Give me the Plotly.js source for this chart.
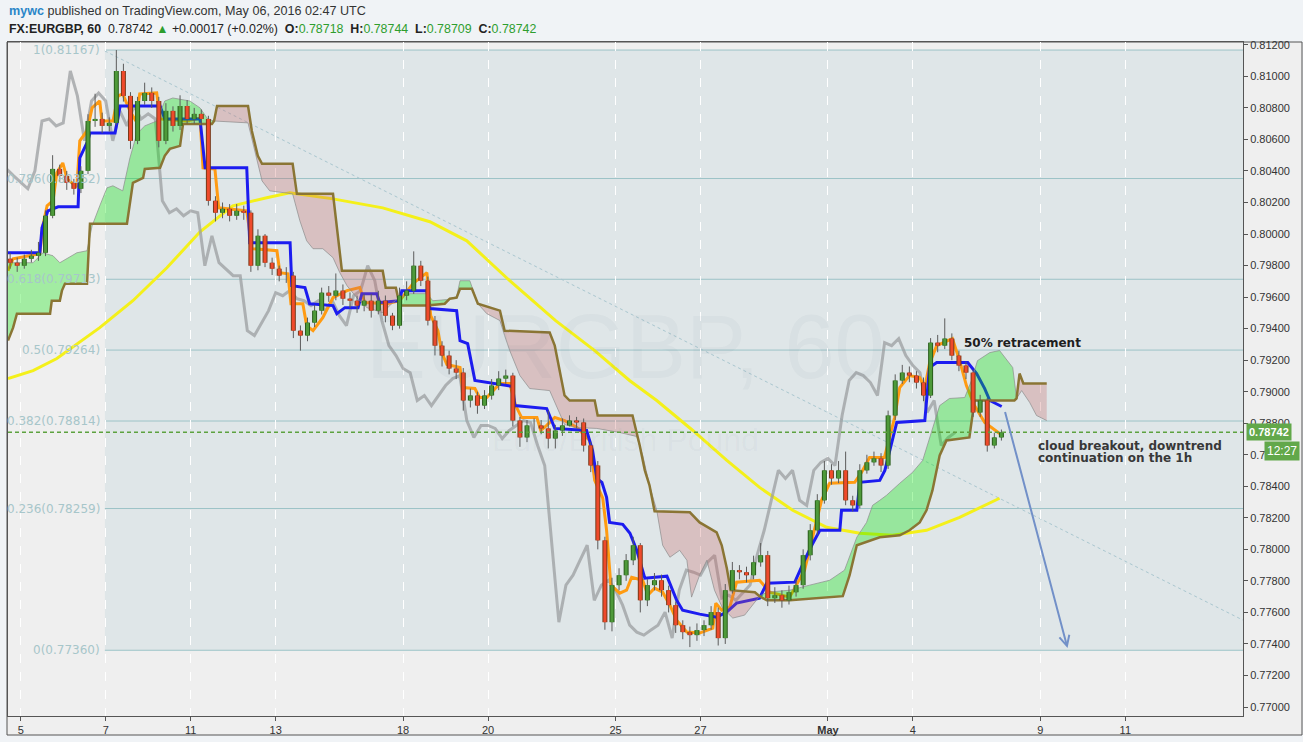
<!DOCTYPE html>
<html>
<head>
<meta charset="utf-8">
<script src="https://cdn.plot.ly/plotly-3.0.1.min.js"></script>
<style>
html,body{margin:0;padding:0;background:#f0f3f6;}
#chart{width:1303px;height:742px;}
</style>
</head>
<body>
<div id="chart"></div>
<script>
// ---------------- DATA ----------------
// x values are trading-day index (Apr 4 2016 = 0, weekends removed)
const tickDays   = [1, 3, 5, 7, 10, 12, 15, 17, 20, 22, 25, 27];
const tickLabels = ['5', '7', '11', '13', '18', '20', '25', '27', '<b>May</b>', '4', '9', '11'];

// 4-hour candles (open = previous close)
const firstCandleDay = 0.75;
const candlesPerDay = 6;
const firstOpen = 0.79843;
const closes = [
 0.79818,0.79799,0.79843,0.79862,0.79881,0.80116,0.80413,0.80369,0.80325,0.80287,
 0.80401,0.80717,0.80730,0.80686,0.80705,0.81034,0.80876,0.80591,0.80844,0.80895,
 0.80844,0.80591,0.80781,0.80686,0.80812,0.80730,0.80762,0.80730,0.80211,0.80135,
 0.80160,0.80116,0.80147,0.80135,0.79799,0.79989,0.79818,0.79780,0.79736,0.79736,
 0.79387,0.79356,0.79438,0.79514,0.79628,0.79609,0.79641,0.79590,0.79577,0.79546,
 0.79577,0.79514,0.79577,0.79482,0.79419,0.79609,0.79641,0.79799,0.79704,0.79451,
 0.79292,0.79229,0.79147,0.79121,0.78944,0.78976,0.78912,0.78976,0.79039,0.79083,
 0.79102,0.78817,0.78710,0.78786,0.78786,0.78767,0.78703,0.78754,0.78786,0.78817,
 0.78805,0.78659,0.78532,0.78057,0.77538,0.77773,0.77836,0.77931,0.78026,0.77677,
 0.77773,0.77804,0.77741,0.77646,0.77519,0.77475,0.77456,0.77488,0.77519,0.77602,
 0.77437,0.77741,0.77868,0.77855,0.77836,0.77918,0.77963,0.77690,0.77709,0.77677,
 0.77728,0.77773,0.77963,0.78121,0.78311,0.78501,0.78450,0.78501,0.78311,0.78279,
 0.78501,0.78552,0.78577,0.78532,0.78849,0.79071,0.79121,0.79102,0.79058,0.78976,
 0.79311,0.79292,0.79337,0.79229,0.79166,0.79121,0.78868,0.78944,0.78659,0.78710,
 0.78742];
const highs = [
 0.79880,0.79850,0.79870,0.79900,0.79950,0.80150,0.80500,0.80440,0.80400,0.80350,
 0.80430,0.80760,0.80890,0.80770,0.80740,0.81167,0.81080,0.80900,0.80870,0.80960,
 0.80930,0.80870,0.80830,0.80810,0.80880,0.80850,0.80800,0.80790,0.80750,0.80240,
 0.80200,0.80190,0.80190,0.80180,0.80150,0.80030,0.80000,0.79850,0.79800,0.79790,
 0.79760,0.79420,0.79470,0.79550,0.79660,0.79670,0.79750,0.79680,0.79630,0.79610,
 0.79620,0.79620,0.79640,0.79610,0.79500,0.79660,0.79700,0.79890,0.79830,0.79730,
 0.79480,0.79320,0.79260,0.79200,0.79150,0.79020,0.79000,0.79010,0.79080,0.79130,
 0.79140,0.79120,0.78840,0.78820,0.78830,0.78820,0.78880,0.78790,0.78830,0.78850,
 0.78840,0.78830,0.78680,0.78560,0.78080,0.77820,0.77880,0.77970,0.78080,0.78040,
 0.77810,0.77850,0.77840,0.77770,0.77670,0.77550,0.77510,0.77530,0.77550,0.77640,
 0.77630,0.77780,0.77920,0.77900,0.77890,0.77960,0.78040,0.77990,0.77760,0.77740,
 0.77770,0.77810,0.78000,0.78160,0.78350,0.78560,0.78540,0.78560,0.78620,0.78340,
 0.78540,0.78600,0.78620,0.78610,0.78880,0.79110,0.79170,0.79160,0.79130,0.79090,
 0.79340,0.79360,0.79465,0.79370,0.79260,0.79190,0.79140,0.78980,0.78960,0.78740,
 0.78760];
const lows = [
 0.79780,0.79760,0.79780,0.79820,0.79830,0.79860,0.80100,0.80330,0.80280,0.80250,
 0.80260,0.80380,0.80680,0.80640,0.80650,0.80690,0.80840,0.80540,0.80570,0.80820,
 0.80800,0.80550,0.80570,0.80650,0.80660,0.80700,0.80700,0.80690,0.80180,0.80080,
 0.80100,0.80080,0.80090,0.80090,0.79760,0.79770,0.79790,0.79740,0.79700,0.79690,
 0.79340,0.79260,0.79320,0.79410,0.79490,0.79570,0.79580,0.79550,0.79530,0.79500,
 0.79510,0.79470,0.79490,0.79440,0.79390,0.79400,0.79580,0.79620,0.79670,0.79420,
 0.79230,0.79160,0.79110,0.79080,0.78880,0.78900,0.78860,0.78890,0.78950,0.79010,
 0.79050,0.78780,0.78650,0.78680,0.78740,0.78730,0.78640,0.78640,0.78720,0.78780,
 0.78770,0.78620,0.78490,0.78000,0.77490,0.77480,0.77740,0.77800,0.77900,0.77600,
 0.77640,0.77740,0.77700,0.77600,0.77470,0.77430,0.77380,0.77420,0.77450,0.77490,
 0.77390,0.77400,0.77720,0.77810,0.77790,0.77810,0.77890,0.77640,0.77660,0.77630,
 0.77650,0.77700,0.77750,0.77930,0.78090,0.78290,0.78410,0.78420,0.78280,0.78240,
 0.78260,0.78480,0.78530,0.78490,0.78510,0.78820,0.79050,0.79060,0.79020,0.78940,
 0.78960,0.79250,0.79270,0.79200,0.79130,0.79080,0.78840,0.78840,0.78620,0.78640,
 0.78690];

// Ichimoku lagging span displacement (26 hourly bars)
const chikouShiftDays = 26 / 24;

// Kijun-sen (blue)
const kijunX = [0.70,1.45,1.50,1.64,1.88,2.35,2.39,2.51,2.58,2.63,
 3.22,3.34,4.28,4.39,5.22,5.34,6.32,6.39,7.34,7.38,
 7.69,7.80,8.35,8.44,8.63,8.94,9.03,9.38,9.45,9.92,
 9.97,10.56,10.63,11.26,11.34,11.52,11.69,12.58,12.63,13.38,
 13.57,14.32,14.46,14.56,14.68,14.79,14.86,15.17,15.34,15.50,
 15.69,16.21,16.44,16.58,16.98,17.38,17.62,17.85,18.39,18.56,
 19.22,19.45,19.62,19.81,20.28,20.32,20.68,20.75,21.22,21.34,
 21.45,21.62,22.28,22.39,22.56,23.29,23.50,23.69,23.81,24.09];
const kijunY = [0.79881,0.79881,0.80040,0.80147,0.80173,0.80173,0.80483,0.80546,0.80591,0.80641,
 0.80641,0.80812,0.80812,0.80730,0.80730,0.80420,0.80420,0.79945,0.79945,0.79672,
 0.79660,0.79558,0.79546,0.79495,0.79533,0.79533,0.79622,0.79622,0.79565,0.79577,
 0.79641,0.79641,0.79527,0.79514,0.79324,0.79305,0.79071,0.79033,0.78912,0.78893,
 0.78767,0.78754,0.78627,0.78450,0.78425,0.78330,0.78171,0.78159,0.78102,0.77994,
 0.77817,0.77830,0.77677,0.77614,0.77589,0.77570,0.77602,0.77659,0.77690,0.77785,
 0.77792,0.77931,0.78026,0.78121,0.78121,0.78248,0.78248,0.78425,0.78437,0.78501,
 0.78627,0.78805,0.78817,0.79153,0.79185,0.79185,0.79115,0.79020,0.78944,0.78906];

// Tenkan-sen (orange)
const tenkanX = [0.70,0.82,1.45,1.52,1.62,1.76,1.85,1.99,2.09,2.32,
 2.39,2.56,2.68,2.86,2.91,3.17,3.29,3.40,3.57,3.71,
 3.80,4.20,4.28,4.91,5.22,5.29,5.57,5.66,6.32,6.44,
 7.03,7.10,7.29,7.36,7.64,7.73,7.88,8.11,8.35,8.68,
 8.98,9.10,9.62,9.92,10.23,10.56,10.65,10.82,10.91,11.03,
 11.34,11.40,11.69,11.80,11.97,12.28,12.51,12.65,12.79,13.15,
 13.24,13.38,13.57,13.80,14.09,14.39,14.51,14.70,14.79,14.89,
 15.10,15.26,15.38,15.64,15.76,15.92,16.11,16.28,16.44,16.68,
 16.98,17.29,17.36,17.50,17.69,17.85,18.39,18.63,19.10,19.45,
 19.69,19.85,20.04,20.63,20.79,20.98,21.33,21.45,21.57,21.69,
 21.92,22.16,22.28,22.39,22.56,22.93,23.10,23.26,23.45,23.69,
 24.04];
const tenkanY = [0.79767,0.79843,0.79875,0.80052,0.80179,0.80211,0.80388,0.80451,0.80350,0.80299,
 0.80591,0.80654,0.80800,0.80844,0.80717,0.80717,0.80876,0.80888,0.80781,0.80717,
 0.80888,0.80895,0.80730,0.80717,0.80736,0.80420,0.80413,0.80166,0.80147,0.79907,
 0.79894,0.79755,0.79748,0.79558,0.79558,0.79419,0.79387,0.79470,0.79596,0.79641,
 0.79660,0.79565,0.79558,0.79577,0.79685,0.79755,0.79482,0.79387,0.79248,0.79172,
 0.79153,0.79026,0.79020,0.78963,0.78963,0.79052,0.79052,0.78912,0.78836,0.78836,
 0.78754,0.78786,0.78836,0.78817,0.78773,0.78691,0.78437,0.78324,0.78121,0.77773,
 0.77722,0.77741,0.77823,0.77804,0.77709,0.77754,0.77728,0.77646,0.77551,0.77475,
 0.77469,0.77500,0.77659,0.77614,0.77633,0.77792,0.77804,0.77728,0.77697,0.77868,
 0.78134,0.78311,0.78419,0.78425,0.78488,0.78583,0.78583,0.78703,0.78836,0.79026,
 0.79102,0.79090,0.79026,0.79178,0.79292,0.79337,0.79197,0.79039,0.78912,0.78805,
 0.78735];

// 200 SMA (yellow)
const smaX = [0.70,1.29,1.85,2.86,3.64,4.44,5.22,5.99,6.79,7.33,8.35,9.52,10.63,11.50,12.51,
 13.59,14.51,15.33,15.97,16.82,17.62,18.39,19.17,19.97,20.75,21.52,22.32,23.10,24.04];
const smaY = [0.79083,0.79134,0.79210,0.79406,0.79577,0.79786,0.80014,0.80179,0.80230,0.80261,
 0.80223,0.80166,0.80078,0.79957,0.79704,0.79451,0.79261,0.79071,0.78944,0.78754,
 0.78564,0.78393,0.78248,0.78140,0.78102,0.78089,0.78121,0.78203,0.78324];

// Senkou span A (thin) and B (thick)
const spanAX = [0.70,1.29,1.52,1.76,1.92,2.09,2.32,2.56,2.68,2.86,
 3.03,3.17,3.40,3.57,3.73,3.92,4.20,4.39,4.58,4.98,
 5.22,5.40,5.55,6.35,6.51,6.68,6.86,7.40,7.57,7.73,
 7.88,8.11,8.35,8.51,8.68,8.91,9.15,9.52,9.73,9.88,
 10.16,10.56,10.70,11.03,11.26,11.34,11.57,11.76,11.97,12.28,
 12.39,12.51,12.75,12.98,13.45,13.64,13.80,14.04,14.56,15.10,
 15.50,15.64,15.80,15.97,16.11,16.28,16.51,16.68,16.79,16.98,
 17.15,17.33,17.52,17.76,18.04,18.28,18.39,18.56,19.10,19.57,
 20.04,20.39,20.68,20.91,21.05,21.22,21.38,21.69,21.99,22.23,
 22.32,22.46,22.63,22.86,23.22,23.38,23.52,23.81,24.04,24.35,
 24.44,24.56,24.75,24.91,25.15];
const spanAY = [0.79818,0.79818,0.79881,0.79862,0.79818,0.79843,0.79881,0.79894,0.80052,0.80179,
 0.80293,0.80306,0.80274,0.80483,0.80635,0.80686,0.80717,0.80844,0.80863,0.80844,
 0.80800,0.80730,0.80717,0.80705,0.80527,0.80337,0.80274,0.80255,0.80084,0.79957,
 0.79907,0.79907,0.79850,0.79755,0.79672,0.79596,0.79533,0.79501,0.79558,0.79590,
 0.79622,0.79622,0.79577,0.79584,0.79603,0.79704,0.79704,0.79558,0.79495,0.79451,
 0.79356,0.79261,0.79102,0.79020,0.79007,0.78893,0.78792,0.78773,0.78767,0.78741,
 0.78716,0.78596,0.78406,0.78248,0.78026,0.77950,0.77994,0.77931,0.77697,0.77836,
 0.77931,0.77741,0.77627,0.77564,0.77583,0.77665,0.77703,0.77728,0.77741,0.77773,
 0.77804,0.77868,0.78077,0.78171,0.78279,0.78311,0.78343,0.78419,0.78488,0.78564,
 0.78640,0.78754,0.78912,0.78957,0.78963,0.79071,0.79197,0.79248,0.79261,0.79153,
 0.78957,0.79007,0.78931,0.78849,0.78817];
const spanBX = [0.70,0.82,0.91,1.69,1.73,1.92,1.97,2.04,2.56,2.63,
 3.50,3.64,3.88,3.92,4.28,4.39,4.51,4.75,4.82,5.50,
 5.55,5.62,6.35,6.44,6.58,6.68,7.40,7.50,8.35,8.56,
 9.52,9.59,9.83,9.88,9.92,10.56,10.98,11.10,11.26,11.34,
 11.62,11.76,12.28,12.39,13.45,13.57,13.69,13.80,13.92,14.51,
 14.58,15.40,15.57,15.69,15.80,15.92,16.75,16.98,17.38,17.50,
 17.62,17.71,18.28,18.39,18.56,19.10,20.35,20.51,20.68,20.98,
 21.22,21.69,21.92,22.16,22.32,22.46,22.63,22.79,23.33,23.45,
 24.39,24.44,24.51,24.60,25.15];
const spanBY = [0.79324,0.79406,0.79495,0.79495,0.79577,0.79577,0.79641,0.79685,0.79685,0.80065,
 0.80065,0.80325,0.80356,0.80413,0.80420,0.80496,0.80540,0.80559,0.80698,0.80698,
 0.80717,0.80812,0.80812,0.80654,0.80496,0.80445,0.80445,0.80255,0.80255,0.79767,
 0.79767,0.79660,0.79660,0.79590,0.79546,0.79546,0.79558,0.79590,0.79596,0.79653,
 0.79653,0.79558,0.79514,0.79387,0.79375,0.79292,0.79134,0.78976,0.78944,0.78944,
 0.78849,0.78849,0.78659,0.78501,0.78406,0.78241,0.78235,0.78171,0.78108,0.78026,
 0.77880,0.77741,0.77728,0.77703,0.77677,0.77677,0.77703,0.77836,0.78026,0.78057,
 0.78077,0.78089,0.78121,0.78171,0.78248,0.78374,0.78596,0.78691,0.78710,0.78944,
 0.78944,0.78957,0.79115,0.79052,0.79052];
// points where span A and span B cross (shared by both lists)
const cloudCrossings = [5.55, 9.88, 11.76, 18.39, 24.44];

// Fibonacci retracement
const fibStartDay = 2.98;
const fibLevels = ['1', '0.786', '0.618', '0.5', '0.382', '0.236', '0'];
const fibPrices = [0.81167, 0.80352, 0.79713, 0.79264, 0.78814, 0.78259, 0.77360];

// drawings
const trendLineX = [2.98, 29.77];
const trendLineY = [0.81161, 0.77551];
const lastPrice = 0.78742;
const arrowTail = [24.16, 0.78881];
const arrowHead = [25.64, 0.77374];
const note1 = {x: 23.15, y: 0.79311, text: '50% retracement'};
const note2 = {x: 24.89, y: [0.78653, 0.78577], text: ['cloud breakout, downtrend', 'continuation on the 1h']};

const header = {
  author: 'mywc', published: ' published on TradingView.com, May 06, 2016 02:47 UTC',
  symbol: 'FX:EURGBP, 60', last: '0.78742', change: '+0.00017 (+0.02%)',
  ohlc: [['O:', '0.78718'], ['H:', '0.78744'], ['L:', '0.78709'], ['C:', '0.78742']],
  countdown: '12:27'
};

// ---------------- LAYOUT HELPERS ----------------
const W = 1303, H = 742;
const M = {l: 8, r: 60, t: 42, b: 26};
const PW = W - M.l - M.r, PH = H - M.t - M.b;
const px2x = p => (p - M.l) / PW;
const py2y = p => 1 - (p - M.t) / PH;
const xRange = [0.70, 29.77];
const yRange = [0.76943, 0.81218];

// ---------------- TRACES ----------------
const traces = [];
const skip = {hoverinfo: 'skip', showlegend: false};

// SMA
traces.push(Object.assign({type: 'scatter', mode: 'lines', x: smaX, y: smaY,
  line: {color: '#f4f01a', width: 3}}, skip));
// Chikou (lagging span) = closes displaced back
const candleX = closes.map((_, i) => firstCandleDay + i / candlesPerDay);
traces.push(Object.assign({type: 'scatter', mode: 'lines',
  x: candleX.map(v => v - chikouShiftDays), y: closes,
  line: {color: 'rgba(155,158,160,0.75)', width: 3}}, skip));
// Tenkan
traces.push(Object.assign({type: 'scatter', mode: 'lines', x: tenkanX, y: tenkanY,
  line: {color: '#ff9b12', width: 3}}, skip));
// Kijun
traces.push(Object.assign({type: 'scatter', mode: 'lines', x: kijunX, y: kijunY,
  line: {color: '#1c1cf0', width: 3}}, skip));

// Cloud fill segments
const bounds = [spanAX[0]].concat(cloudCrossings, [spanAX[spanAX.length - 1]]);
const eps = 1e-6;
for (let k = 0; k < bounds.length - 1; k++) {
  const lo = bounds[k] - eps, hi = bounds[k + 1] + eps;
  const ax = [], ay = [], bx = [], by = [];
  spanAX.forEach((x, i) => { if (x >= lo && x <= hi) { ax.push(x); ay.push(spanAY[i]); } });
  spanBX.forEach((x, i) => { if (x >= lo && x <= hi) { bx.push(x); by.push(spanBY[i]); } });
  const mean = a => a.reduce((s, v) => s + v, 0) / a.length;
  const bullish = mean(ay) > mean(by);
  traces.push(Object.assign({type: 'scatter', mode: 'lines', x: bx, y: by,
    line: {width: 0, color: 'rgba(0,0,0,0)'}}, skip));
  traces.push(Object.assign({type: 'scatter', mode: 'lines', x: ax, y: ay,
    fill: 'tonexty', fillcolor: bullish ? 'rgba(0,230,0,0.32)' : 'rgba(200,100,100,0.29)',
    line: {width: 0, color: 'rgba(0,0,0,0)'}}, skip));
}
// Span lines
traces.push(Object.assign({type: 'scatter', mode: 'lines', x: spanAX, y: spanAY,
  line: {color: 'rgba(140,140,140,0.7)', width: 1}}, skip));
traces.push(Object.assign({type: 'scatter', mode: 'lines', x: spanBX, y: spanBY,
  line: {color: '#8a7534', width: 2.5}}, skip));

// Candles
const opens = closes.map((c, i) => i === 0 ? firstOpen : closes[i - 1]);
const wx = [], wy = [];
const ux = [], uy = [], dx = [], dy = [];
closes.forEach((c, i) => {
  const x = candleX[i], o = opens[i];
  wx.push(x, x, null); wy.push(lows[i], highs[i], null);
  if (c >= o) { ux.push(x, x, null); uy.push(o, c, null); }
  else { dx.push(x, x, null); dy.push(o, c, null); }
});
traces.push(Object.assign({type: 'scatter', mode: 'lines', x: wx, y: wy,
  line: {color: '#5b5b5b', width: 1}}, skip));
traces.push(Object.assign({type: 'scatter', mode: 'lines', x: ux, y: uy,
  line: {color: '#2a5e1c', width: 5}}, skip));
traces.push(Object.assign({type: 'scatter', mode: 'lines', x: ux, y: uy,
  line: {color: '#4e9a3a', width: 3}}, skip));
traces.push(Object.assign({type: 'scatter', mode: 'lines', x: dx, y: dy,
  line: {color: '#7a3a1a', width: 5}}, skip));
traces.push(Object.assign({type: 'scatter', mode: 'lines', x: dx, y: dy,
  line: {color: '#ef4a2b', width: 3}}, skip));

// ---------------- SHAPES ----------------
const shapes = [];
// chart frame (axis gutters)
shapes.push({type: 'rect', xref: 'paper', yref: 'paper', layer: 'below',
  x0: px2x(7), x1: px2x(1302), y0: py2y(735), y1: 1,
  fillcolor: '#efefef', line: {color: '#555', width: 1}});
// fib tinted area
shapes.push({type: 'rect', xref: 'x', yref: 'y', layer: 'below',
  x0: fibStartDay, x1: xRange[1], y0: fibPrices[fibPrices.length - 1], y1: fibPrices[0],
  fillcolor: '#dfe6e8', line: {width: 0}});
fibPrices.forEach(p => shapes.push({type: 'line', xref: 'x', yref: 'y', layer: 'below',
  x0: fibStartDay, x1: xRange[1], y0: p, y1: p, line: {color: '#9cc3c7', width: 1}}));
// trend line
shapes.push({type: 'line', xref: 'x', yref: 'y', layer: 'below',
  x0: trendLineX[0], x1: trendLineX[1], y0: trendLineY[0], y1: trendLineY[1],
  line: {color: '#a9c6cf', width: 1, dash: '3px,3px'}});
// last price line
shapes.push({type: 'line', xref: 'paper', yref: 'y', layer: 'above',
  x0: 0, x1: 1, y0: lastPrice, y1: lastPrice,
  line: {color: '#5da23f', width: 1.5, dash: '4px,3px'}});

// ---------------- ANNOTATIONS ----------------
const ann = [];
const fibFont = {family: 'DejaVu Sans', size: 12, color: '#a7c6ca'};
fibLevels.forEach((lv, i) => ann.push({xref: 'x', yref: 'y', x: fibStartDay, y: fibPrices[i],
  xanchor: 'right', yanchor: 'middle', xshift: -3, showarrow: false,
  text: lv + '(' + fibPrices[i].toFixed(5) + ')', font: fibFont}));

// watermark
ann.push({xref: 'paper', yref: 'paper', x: px2x(625), y: py2y(347), xanchor: 'center', yanchor: 'middle',
  showarrow: false, text: 'EURGBP, 60', font: {family: 'Liberation Sans', size: 90, color: 'rgba(80,100,110,0.045)'}});
ann.push({xref: 'paper', yref: 'paper', x: px2x(625), y: py2y(440), xanchor: 'center', yanchor: 'middle',
  showarrow: false, text: 'Euro/British Pound', font: {family: 'Liberation Sans', size: 32, color: 'rgba(80,100,110,0.045)'}});

// arrow
ann.push({xref: 'x', yref: 'y', axref: 'x', ayref: 'y', x: arrowHead[0], y: arrowHead[1],
  ax: arrowTail[0], ay: arrowTail[1], text: '', showarrow: true,
  arrowcolor: '#7290c8', arrowwidth: 2, arrowhead: 5, arrowsize: 1});

// notes
ann.push({xref: 'x', yref: 'y', x: note1.x, y: note1.y, xanchor: 'left', yanchor: 'middle', showarrow: false,
  text: '<b>' + note1.text + '</b>', font: {family: 'DejaVu Sans', size: 12, color: '#1e1e1e'}});
note2.text.forEach((t, i) => ann.push({xref: 'x', yref: 'y', x: note2.x, y: note2.y[i],
  xanchor: 'left', yanchor: 'middle', showarrow: false,
  text: '<b>' + t + '</b>', font: {family: 'DejaVu Sans', size: 12, color: '#383838'}}));

// header
const g = s => '<span style="color:#2e9e2e">' + s + '</span>';
const sp = '\u00a0';
ann.push({xref: 'paper', yref: 'paper', x: px2x(7), y: py2y(11), xanchor: 'left', yanchor: 'middle',
  showarrow: false, align: 'left',
  text: '<span style="color:#2a86c8"><b>' + header.author + '</b></span>' + header.published,
  font: {family: 'Liberation Sans', size: 12.6, color: '#333'}});
let line2 = '<b>' + header.symbol + '</b>' + sp + sp + header.last + sp + g('\u25B2') + sp + header.change;
header.ohlc.forEach(p => { line2 += sp + sp + '<b>' + p[0] + '</b>' + g(p[1]); });
ann.push({xref: 'paper', yref: 'paper', x: px2x(7), y: py2y(29), xanchor: 'left', yanchor: 'middle',
  showarrow: false, align: 'left', text: line2,
  font: {family: 'Liberation Sans', size: 12.4, color: '#222'}});

// price tag on axis
ann.push({xref: 'paper', yref: 'y', x: px2x(1246), y: lastPrice, xanchor: 'left', yanchor: 'middle',
  showarrow: false, text: '<b>' + header.last + '</b>', bgcolor: '#62a84a', borderpad: 2,
  font: {family: 'Liberation Sans', size: 11, color: '#ffffff'}});
ann.push({xref: 'paper', yref: 'paper', x: px2x(1300), y: py2y(451), xanchor: 'right', yanchor: 'middle',
  showarrow: false, text: header.countdown, bgcolor: '#62a84a', borderpad: 2,
  font: {family: 'Liberation Sans', size: 12, color: '#ffffff'}});

// ---------------- LAYOUT ----------------
const layout = {
  width: W, height: H, margin: M,
  paper_bgcolor: '#f0f3f6', plot_bgcolor: '#efefef',
  showlegend: false, hovermode: false,
  xaxis: {range: xRange, tickmode: 'array', tickvals: tickDays, ticktext: tickLabels,
    showgrid: true, gridcolor: '#ffffff', griddash: 'dash', gridwidth: 1,
    zeroline: false, showline: true, mirror: true, linecolor: '#555', linewidth: 1,
    ticks: 'outside', ticklen: 4, tickcolor: '#555',
    tickfont: {family: 'Liberation Sans', size: 11, color: '#333'}},
  yaxis: {range: yRange, side: 'right', tick0: 0.770, dtick: 0.002, tickformat: '.5f',
    showgrid: false, zeroline: false, showline: true, mirror: true, linecolor: '#555', linewidth: 1,
    ticks: 'outside', ticklen: 4, tickcolor: '#555',
    tickfont: {family: 'Liberation Sans', size: 11, color: '#333'}},
  shapes: shapes, annotations: ann
};

Plotly.newPlot('chart', traces, layout, {displayModeBar: false, staticPlot: true});
</script>
</body>
</html>
